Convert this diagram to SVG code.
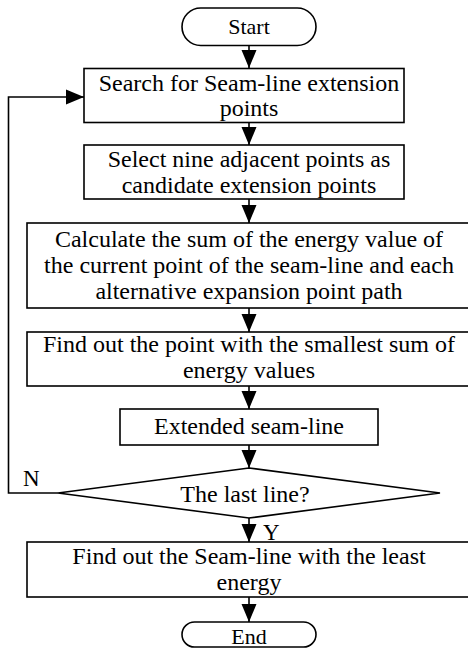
<svg xmlns="http://www.w3.org/2000/svg" width="468" height="653" viewBox="0 0 468 653">
<defs>
<style>
.shape{fill:#ffffff;stroke:#000000;stroke-width:1.6}
.t{font-family:"Liberation Serif","Times New Roman",serif;font-size:24px;fill:#000000;text-anchor:middle}
.tt{font-family:"Liberation Serif","Times New Roman",serif;font-size:22px;fill:#000000;text-anchor:middle}
.lbl{font-family:"Liberation Serif","Times New Roman",serif;font-size:23px;fill:#000000}
.c{fill:none;stroke:#000000;stroke-width:1.6}
</style>
<marker id="arr" markerUnits="userSpaceOnUse" markerWidth="18" markerHeight="16" refX="18" refY="8" orient="auto">
<path d="M0,0.5 L18,8 L0,15.5 z" fill="#000000"/>
</marker>
</defs>
<rect width="468" height="653" fill="#ffffff"/>
<g id="connectors">
<line class="c" x1="249" y1="45.5" x2="249" y2="68" marker-end="url(#arr)"/>
<line class="c" x1="249" y1="123" x2="249" y2="145" marker-end="url(#arr)"/>
<line class="c" x1="249" y1="199" x2="249" y2="223" marker-end="url(#arr)"/>
<line class="c" x1="249" y1="308" x2="249" y2="332" marker-end="url(#arr)"/>
<line class="c" x1="249" y1="386" x2="249" y2="409" marker-end="url(#arr)"/>
<line class="c" x1="249" y1="445" x2="249" y2="468" marker-end="url(#arr)"/>
<line class="c" x1="249" y1="518" x2="249" y2="542" marker-end="url(#arr)"/>
<line class="c" x1="249" y1="597" x2="249" y2="622" marker-end="url(#arr)"/>
<polyline class="c" points="58,493 8.5,493 8.5,97 84,97" marker-end="url(#arr)"/>
<text class="lbl" x="23" y="486">N</text>
<text class="lbl" x="263" y="539.5">Y</text>
</g>
<g id="start">
<rect class="shape" x="182" y="8" width="134" height="37.5" rx="18.75"/>
<text class="tt" x="249" y="33.5">Start</text>
</g>
<g id="search">
<rect class="shape" x="84" y="68.5" width="320" height="54"/>
<text class="t" x="249" y="91">Search for Seam-line extension</text>
<text class="t" x="249" y="115.5">points</text>
</g>
<g id="select">
<rect class="shape" x="84" y="145" width="320" height="54"/>
<text class="t" x="249" y="167">Select nine adjacent points as</text>
<text class="t" x="249" y="192.5">candidate extension points</text>
</g>
<g id="calculate">
<rect class="shape" x="27" y="223" width="444" height="85"/>
<text class="t" x="249" y="247">Calculate the sum of the energy value of</text>
<text class="t" x="249" y="273">the current point of the seam-line and each</text>
<text class="t" x="249" y="298.5">alternative expansion point path</text>
</g>
<g id="findpoint">
<rect class="shape" x="27" y="332" width="444" height="54"/>
<text class="t" x="249" y="351.5">Find out the point with the smallest sum of</text>
<text class="t" x="249" y="378">energy values</text>
</g>
<g id="extended">
<rect class="shape" x="120" y="409" width="258" height="36"/>
<text class="t" x="249" y="433.5">Extended seam-line</text>
</g>
<g id="decision">
<polygon class="shape" points="249,468 440,493 249,518 58,493"/>
<text class="t" x="245" y="501.5">The last line?</text>
</g>
<g id="findseam">
<rect class="shape" x="27" y="542" width="444" height="55"/>
<text class="t" x="249" y="563.5">Find out the Seam-line with the least</text>
<text class="t" x="249" y="589.5">energy</text>
</g>
<g id="end">
<rect class="shape" x="182" y="622" width="134" height="25" rx="12.5"/>
<text class="tt" x="249" y="644">End</text>
</g>
</svg>
